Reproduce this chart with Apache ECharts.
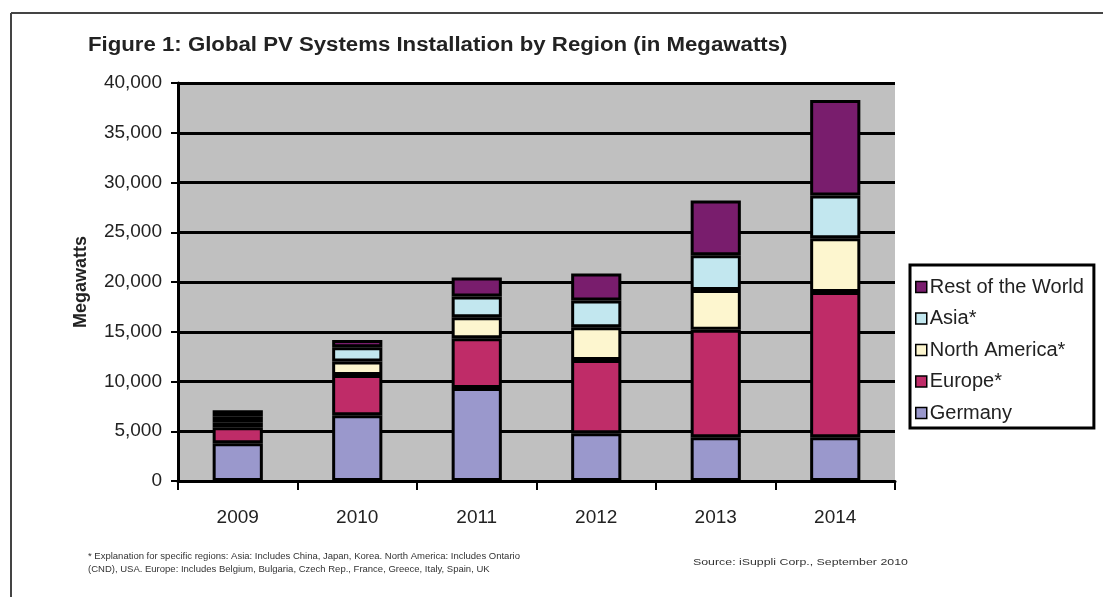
<!DOCTYPE html>
<html>
<head>
<meta charset="utf-8">
<script src="https://cdn.jsdelivr.net/npm/echarts@6/dist/echarts.min.js"></script>
<style>
  html, body { margin: 0; padding: 0; background: #fff; }
  #chart { width: 1103px; height: 597px; }
</style>
</head>
<body>
<div id="chart"></div>
<script>
// data (megawatts)
const years = ["2009", "2010", "2011", "2012", "2013", "2014"];
const germany = [3800, 6600, 9350, 4800, 4400, 4400];
const europe = [1600, 4050, 5000, 7350, 10800, 14600];
const northAmerica = [500, 1350, 2100, 3300, 4000, 5400];
const asia = [600, 1450, 2100, 2700, 3500, 4300];
const restOfWorld = [600, 730, 1900, 2700, 5500, 9600];

const seriesNames = ["Germany", "Europe*", "North America*", "Asia*", "Rest of the World"];
const seriesValues = [germany, europe, northAmerica, asia, restOfWorld];
const seriesColors = ["#9a98cc", "#bf2c68", "#fdf6cf", "#c2e7ef", "#791d6d"];

const FONT = "Liberation Sans, Arial, sans-serif";
const chart = echarts.init(document.getElementById("chart"), null, { renderer: "canvas" });

const option = {
  backgroundColor: "#fff",
  animation: false,
  textStyle: { fontFamily: FONT, color: "#222" },
  grid: {
    left: 178,
    right: 208,
    top: 83,
    bottom: 116,
    show: true,
    backgroundColor: "#c0c0c0",
    borderWidth: 0,
  },
  legend: {
    orient: "vertical",
    left: 910,
    top: 265,
    data: seriesNames.slice().reverse(),
    icon: "rect",
    itemWidth: 11,
    itemHeight: 11,
    itemGap: 11.5,
    padding: [12, 10, 5, 5],
    borderColor: "#000",
    borderWidth: 3,
    backgroundColor: "#fff",
    itemStyle: { borderColor: "#000", borderWidth: 1.5 },
    textStyle: { fontSize: 20, color: "#222", fontFamily: FONT, padding: [0, 0, 0, -2] },
  },
  xAxis: {
    type: "category",
    data: years,
    axisLine: { lineStyle: { color: "#000", width: 3 } },
    axisTick: { show: true, length: 9, lineStyle: { color: "#000", width: 2 } },
    axisLabel: { fontSize: 19, color: "#222", margin: 27, fontFamily: FONT },
  },
  yAxis: {
    type: "value",
    min: 0,
    max: 40000,
    interval: 5000,
    name: "Megawatts",
    nameLocation: "middle",
    nameGap: 88,
    nameRotate: 90,
    nameTextStyle: { fontSize: 18, fontWeight: "bold", color: "#222", fontFamily: FONT },
    axisLine: { show: true, lineStyle: { color: "#000", width: 3 } },
    axisTick: { show: true, length: 7, lineStyle: { color: "#000", width: 2 } },
    axisLabel: {
      fontSize: 19,
      color: "#222",
      margin: 16,
      fontFamily: FONT,
      formatter: (v) => v.toLocaleString("en-US"),
    },
    splitLine: { show: true, lineStyle: { color: "#000", width: 3 } },
  },
  series: seriesNames.map((name, i) => ({
    name: name,
    type: "bar",
    stack: "total",
    barWidth: "42%",
    data: seriesValues[i],
    itemStyle: { color: seriesColors[i], borderColor: "#000", borderWidth: 3 },
  })),
  graphic: [
    {
      type: "line",
      shape: { x1: 11, y1: 13, x2: 1103, y2: 13 },
      style: { stroke: "#444", lineWidth: 2 },
    },
    {
      type: "line",
      shape: { x1: 11, y1: 13, x2: 11, y2: 597 },
      style: { stroke: "#444", lineWidth: 2 },
    },
    // title, stretched a little sideways like the scanned original
    {
      type: "text",
      x: 88,
      y: 35,
      scaleX: 1.11,
      style: {
        text: "Figure 1: Global PV Systems Installation by Region (in Megawatts)",
        fontSize: 20,
        fontWeight: "bold",
        fill: "#222",
        fontFamily: FONT,
      },
    },
    {
      type: "text",
      x: 88,
      y: 550,
      style: {
        text: "* Explanation for specific regions: Asia: Includes China, Japan, Korea. North America: Includes Ontario\n(CND), USA. Europe: Includes Belgium, Bulgaria, Czech Rep., France, Greece, Italy, Spain, UK",
        fontSize: 9.5,
        lineHeight: 13,
        fill: "#333",
        fontFamily: FONT,
      },
    },
    {
      type: "text",
      x: 693,
      y: 557,
      scaleX: 1.3,
      style: {
        text: "Source: iSuppli Corp., September 2010",
        fontSize: 9.5,
        fill: "#333",
        fontFamily: FONT,
      },
    },
  ],
};

chart.setOption(option);
</script>
</body>
</html>
